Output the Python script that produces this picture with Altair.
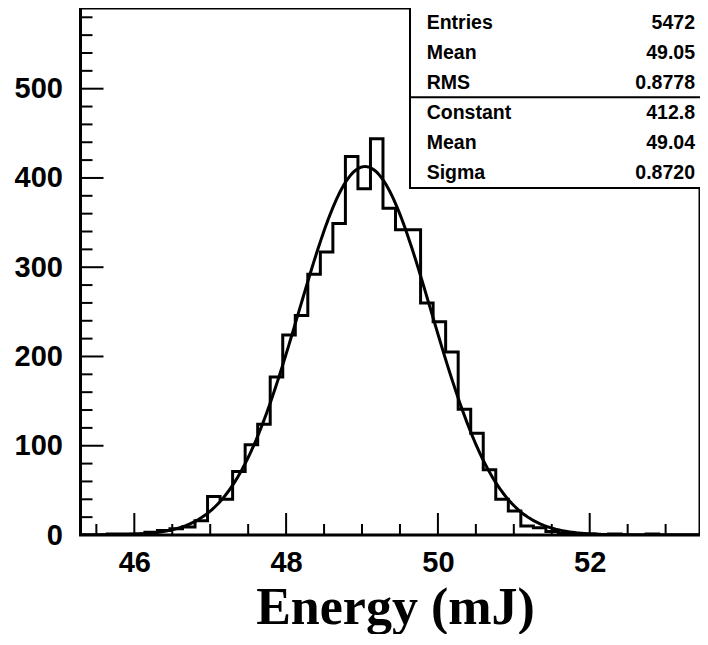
import altair as alt
import pandas as pd

# ---- data ----
bin_low = 45.314
bin_width = 0.1651
counts = [0, 0, 1, 1, 1, 3, 5, 7, 9, 16,
          43, 40, 71, 101, 124, 177, 224, 246, 292, 317,
          349, 424, 388, 444, 366, 342, 342, 260, 239, 205,
          141, 114, 73, 40, 27, 10, 8, 4, 2, 1,
          1, 0, 1, 0, 0, 1, 0, 0, 0, 0]
fit_constant = 412.8
fit_mean = 49.04
fit_sigma = 0.8720

stat_labels = ["Entries", "Mean", "RMS", "Constant", "Mean", "Sigma"]
stat_values = ["5472", "49.05", "0.8778", "412.8", "49.04", "0.8720"]

x_major = [46, 48, 50, 52]
x_minor = [45.5, 46.5, 47, 47.5, 48.5, 49, 49.5, 50.5, 51, 51.5, 52.5, 53, 53.5]
y_labels = [0, 100, 200, 300, 400, 500]
y_major = [100, 200, 300, 400, 500]
y_minor = [20, 40, 60, 80, 120, 140, 160, 180, 220, 240, 260, 280,
           320, 340, 360, 380, 420, 440, 460, 480, 520, 540, 560, 580]

W, H = 619.5, 527
px_per_unit = 75.9
x_domain = [45.291, 45.291 + W / px_per_unit]
y_domain = [0, 590.4]

edges = [bin_low + k * bin_width for k in range(len(counts) + 1)]
hist_df = pd.DataFrame({"x": edges, "y": counts + [counts[-1]]})

x_axis = alt.Axis(values=x_major, format="d", labelFont="Liberation Sans",
                  labelFontWeight="bold", labelFontSize=29, labelColor="black",
                  domain=False, ticks=False, grid=False, labelPadding=13,
                  labelFlush=False,
                  title="Energy (mJ)", titleFont="Liberation Serif",
                  titleFontSize=52, titleFontWeight="bold", titleColor="black",
                  titleX=314.5, titleY=88, titleAlign="center",
                  titleBaseline="alphabetic", titleAnchor="start")
y_axis = alt.Axis(values=y_labels, format="d", labelFont="Liberation Sans",
                  labelFontWeight="bold", labelFontSize=29, labelColor="black",
                  domain=False, ticks=False, grid=False, labelPadding=18,
                  labelFlush=False, title=None)

xs = alt.Scale(domain=x_domain, nice=False, zero=False)
ys = alt.Scale(domain=y_domain, nice=False, zero=False)

X = alt.X("x:Q", scale=xs, axis=x_axis)
Y = alt.Y("y:Q", scale=ys, axis=y_axis)

hist = alt.Chart(hist_df).mark_line(
    interpolate="step-after", color="black", strokeWidth=3, clip=True
).encode(x=X, y=Y)

fit = alt.Chart(alt.sequence(45.3, 53.56, 0.02, as_="x")).transform_calculate(
    y=f"{fit_constant}*exp(-0.5*pow((datum.x-{fit_mean})/{fit_sigma},2))"
).mark_line(color="black", strokeWidth=3, clip=True).encode(x=X, y=Y)

xmaj = alt.Chart(pd.DataFrame({"x": x_major})).mark_rule(
    color="black", strokeWidth=2, clip=True).encode(x=X, y=alt.value(H), y2=alt.value(H - 22))
xmin = alt.Chart(pd.DataFrame({"x": x_minor})).mark_rule(
    color="black", strokeWidth=2, clip=True).encode(x=X, y=alt.value(H), y2=alt.value(H - 11))
ymaj = alt.Chart(pd.DataFrame({"y": y_major})).mark_rule(
    color="black", strokeWidth=2).encode(y=Y, x=alt.value(0), x2=alt.value(23))
ymin = alt.Chart(pd.DataFrame({"y": y_minor})).mark_rule(
    color="black", strokeWidth=2).encode(y=Y, x=alt.value(0), x2=alt.value(12))

box_left, box_right, box_bottom = 329.5, W + 2, 180
box = alt.Chart(pd.DataFrame({"a": [0]})).mark_rect(
    fill="white", stroke="black", strokeWidth=2
).encode(x=alt.value(box_left), x2=alt.value(box_right),
         y=alt.value(-1), y2=alt.value(box_bottom))
divider = alt.Chart(pd.DataFrame({"a": [0]})).mark_rule(
    color="black", strokeWidth=2
).encode(x=alt.value(box_left), x2=alt.value(box_right),
         y=alt.value(89.3))

row_y = [14.7, 45.3, 74.7, 105.3, 135.3, 165.3]
texts = []
for lab, val, yy in zip(stat_labels, stat_values, row_y):
    d = pd.DataFrame({"label": [lab], "value": [val]})
    texts.append(alt.Chart(d).mark_text(
        align="left", baseline="middle", font="Liberation Sans",
        fontWeight="bold", fontSize=19.5, color="black"
    ).encode(x=alt.value(346.2), y=alt.value(yy), text="label:N"))
    texts.append(alt.Chart(d).mark_text(
        align="right", baseline="middle", font="Liberation Sans",
        fontWeight="bold", fontSize=19.5, color="black"
    ).encode(x=alt.value(W - 5), y=alt.value(yy), text="value:N"))

chart = alt.layer(hist, fit, xmaj, xmin, ymaj, ymin, box, divider, *texts).properties(
    width=W, height=H, autosize="none",
    padding={"left": 72.5, "top": 0, "right": 0, "bottom": 99},
    background="white"
).configure_view(stroke="black", strokeWidth=3)

chart.save("out.html", embed_options={"renderer": "svg", "actions": False})
